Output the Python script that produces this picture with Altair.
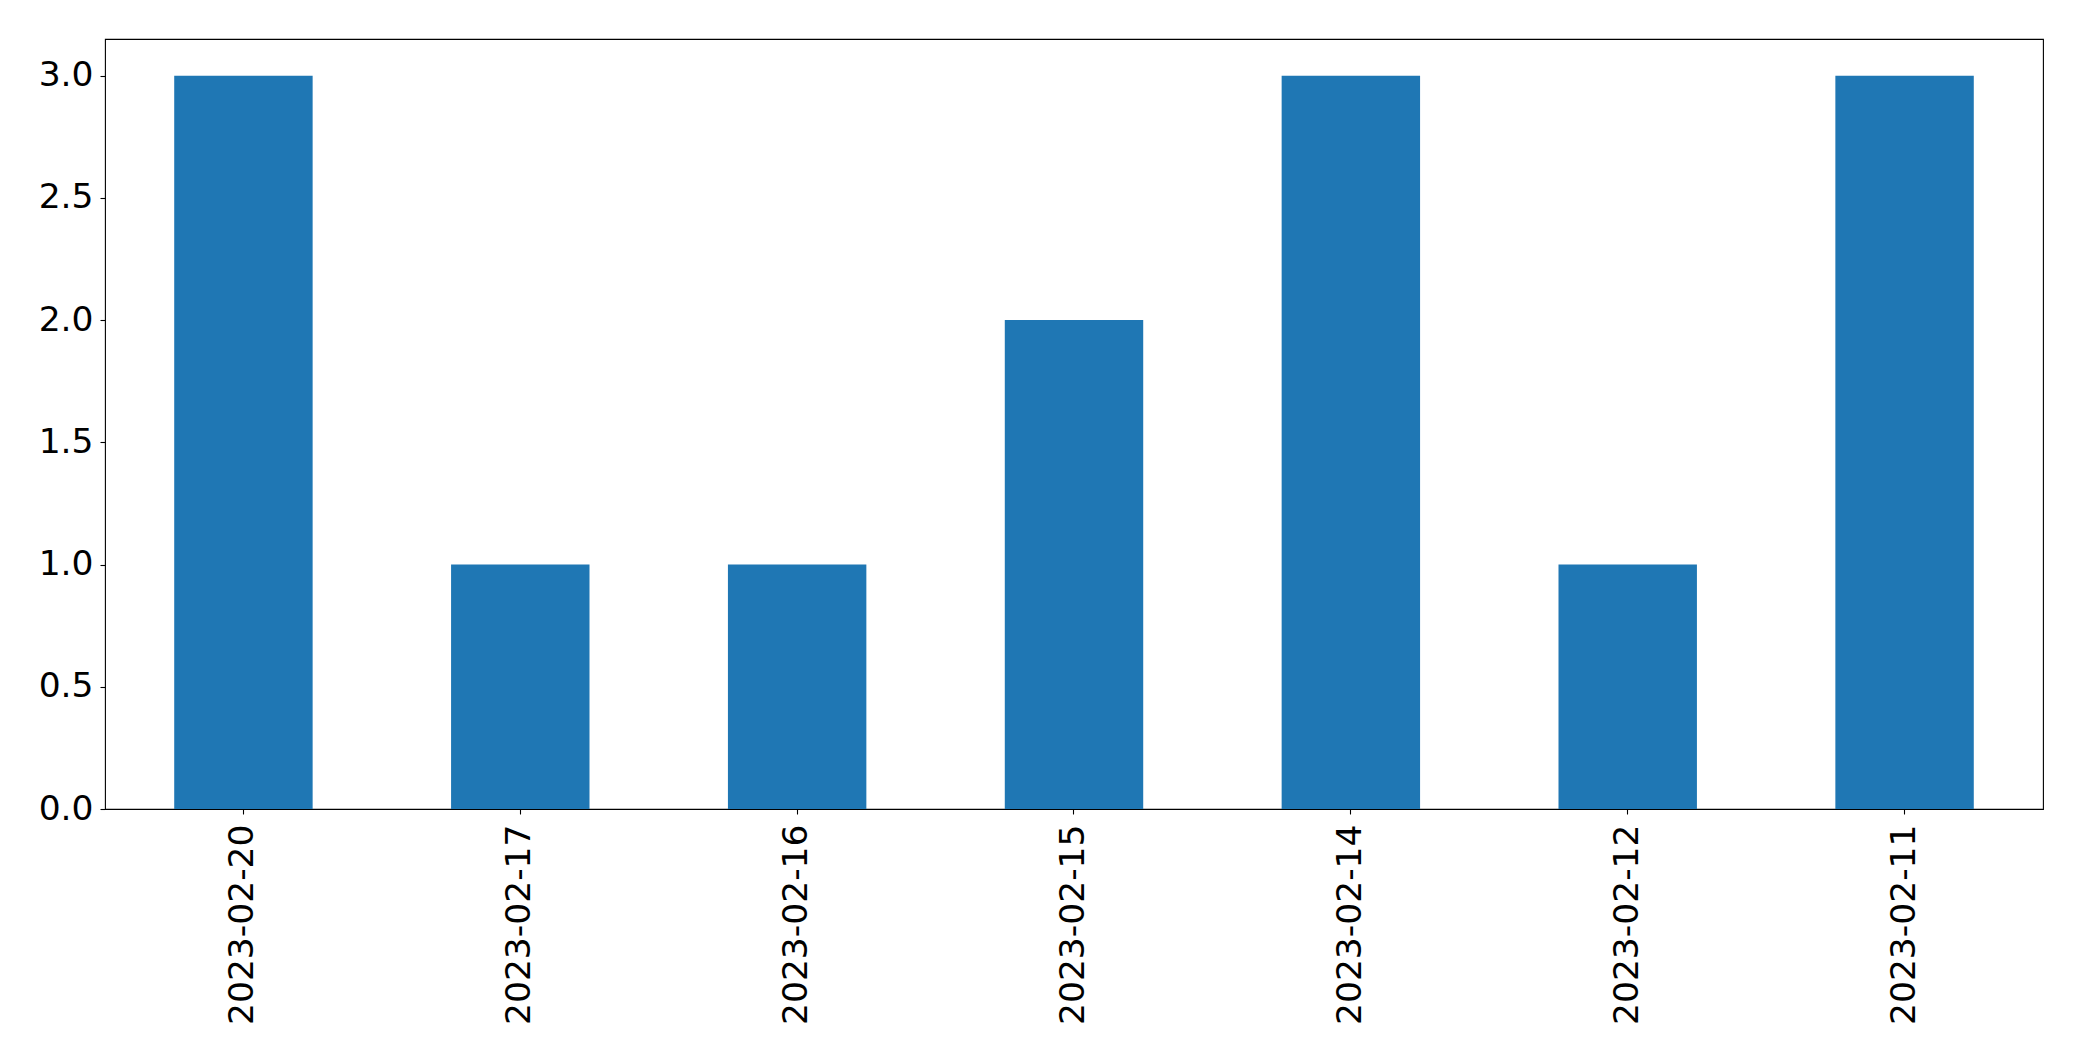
import altair as alt
import pandas as pd

dates = ["2023-02-20", "2023-02-17", "2023-02-16", "2023-02-15", "2023-02-14", "2023-02-12", "2023-02-11"]
counts = [3, 1, 1, 2, 3, 1, 3]
y_ticks = [0.0, 0.5, 1.0, 1.5, 2.0, 2.5, 3.0]

df = pd.DataFrame({"date": dates, "count": counts})

chart = alt.Chart(df).mark_bar(color="#1f77b4").encode(
    x=alt.X("date:N", sort=None, title=None,
            scale=alt.Scale(paddingInner=0.5, paddingOuter=0.25),
            axis=alt.Axis(labelAngle=-90, labelAlign="right", labelBaseline="middle",
                          labelPadding=10, tickSize=5, labelFontSize=34.5, labelLimit=500)),
    y=alt.Y("count:Q", title=None,
            scale=alt.Scale(domain=[0, 3.15], nice=False, zero=True),
            axis=alt.Axis(values=y_ticks, format=".1f", tickSize=5, labelPadding=7,
                          labelFontSize=34.5, labelLimit=500)),
).properties(
    width=1938, height=770,
    autosize=alt.AutoSizeParams(type="none"),
    padding={"left": 97, "top": 31, "right": 30, "bottom": 235},
).configure_view(
    stroke="black", strokeWidth=1.1
).configure_axis(
    grid=False, domain=False, tickColor="black", tickWidth=1.1,
    labelColor="black", labelFont="DejaVu Sans", labelFlush=False, labelOverlap=False,
)

chart.save("out.html", embed_options={"renderer": "svg", "actions": False})
